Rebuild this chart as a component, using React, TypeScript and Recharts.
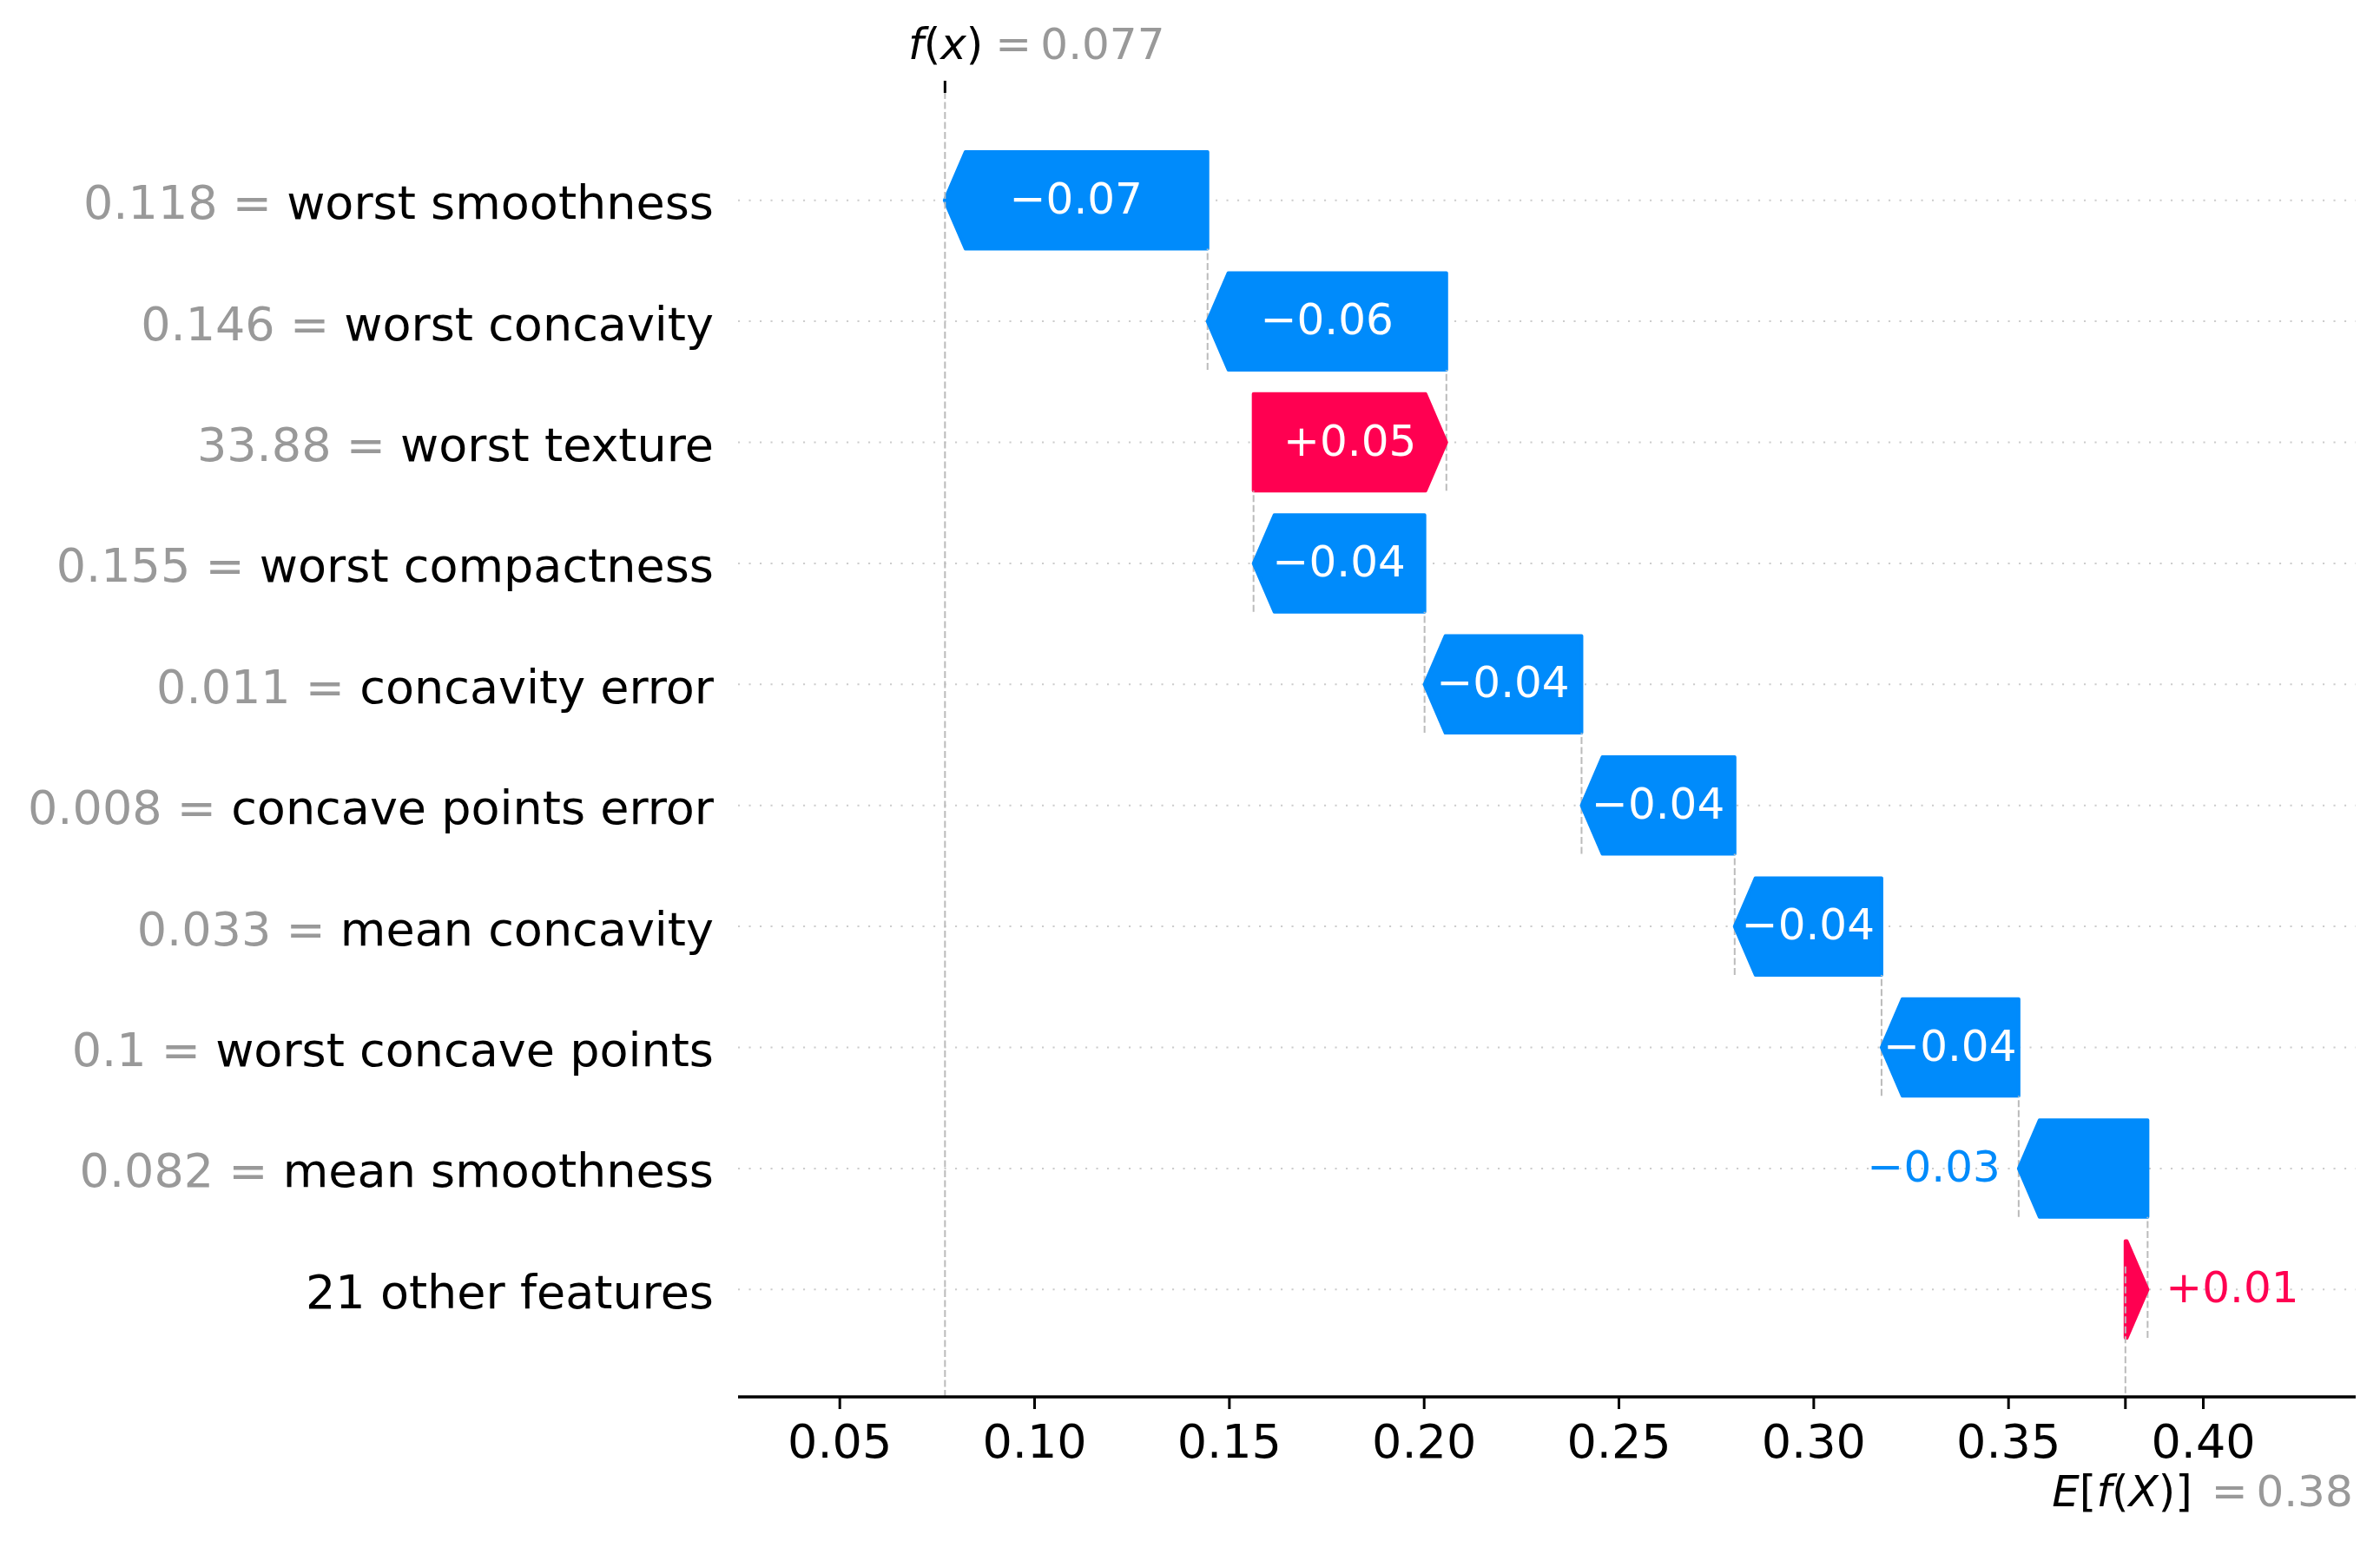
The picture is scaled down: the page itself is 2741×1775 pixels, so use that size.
import React from "react";
import { ComposedChart, Bar, XAxis, YAxis, CartesianGrid, ReferenceLine } from "recharts";

// ---------------- data ----------------
const featureNames = [
  "worst smoothness",
  "worst concavity",
  "worst texture",
  "worst compactness",
  "concavity error",
  "concave points error",
  "mean concavity",
  "worst concave points",
  "mean smoothness",
  "21 other features",
];
const featureValues = ["0.118", "0.146", "33.88", "0.155", "0.011", "0.008", "0.033", "0.1", "0.082", ""];
const shapValues = [-0.0675, -0.0613, 0.0495, -0.0439, -0.0403, -0.0393, -0.0377, -0.0352, -0.0331, 0.0057];
const baseValue = 0.38;
const fxValue = 0.077;
const xTicks = [0.05, 0.1, 0.15, 0.2, 0.25, 0.3, 0.35, 0.4];
const xDomain = [0.02388, 0.43911];

// ---------------- layout / style ----------------
const W = 2741;
const H = 1775;
const PLOT_LEFT = 850;
const PLOT_RIGHT = 2713;
const PLOT_TOP = 107;
const PLOT_BOTTOM = 1609;
const ROW_PAD = 54;
const N = featureNames.length;
const BAND = (PLOT_BOTTOM - PLOT_TOP - 2 * ROW_PAD) / N;
const BAR_SIZE = 0.8 * BAND;
const HEAD = 24;
const FONT = "DejaVu Sans";
const BLUE = "#008bfb";
const RED = "#ff0051";
const GRAY = "#999999";

const fmtSigned = (v: number) => (v < 0 ? "\u2212" : "+") + Math.abs(v).toFixed(2);
const fmtPlain = (v: number) => String(parseFloat(v.toFixed(3)));

// cumulative positions, bottom-up from the base value
const rows = (() => {
  const out: any[] = new Array(N);
  let cum = baseValue;
  for (let i = N - 1; i >= 0; i--) {
    const start = cum;
    const end = cum + shapValues[i];
    cum = end;
    out[i] = {
      name: featureNames[i],
      shap: shapValues[i],
      start,
      end,
      range: [Math.min(start, end), Math.max(start, end)],
      label: fmtSigned(shapValues[i]),
    };
  }
  return out;
})();

const CHAR_W: Record<string, number> = {
  "0": 0.636, "1": 0.636, "2": 0.636, "3": 0.636, "4": 0.636, "5": 0.636,
  "6": 0.636, "7": 0.636, "8": 0.636, "9": 0.636, ".": 0.318, "\u2212": 0.838, "+": 0.838,
};
const textWidth = (s: string, size: number) =>
  s.split("").reduce((a, c) => a + (CHAR_W[c] ?? 0.6), 0) * size;

const ArrowBar = (props: any) => {
  const { x, y, width, height, payload, index } = props;
  const neg = payload.shap < 0;
  const color = neg ? BLUE : RED;
  const len = Math.abs(width);
  const left = Math.min(x, x + width);
  const right = Math.max(x, x + width);
  const sx = neg ? right : left;
  const ex = neg ? left : right;
  const d = neg ? -1 : 1;
  const hl = Math.min(HEAD, len);
  const top = y;
  const bot = y + height;
  const cy = y + height / 2;
  const sh = ex - d * hl;
  const pts = `${sx},${top} ${sh},${top} ${ex},${cy} ${sh},${bot} ${sx},${bot}`;
  const tw = textWidth(payload.label, 50);
  const inside = tw < len + 4;
  return (
    <g>
      {index > 0 && (
        <line x1={ex} x2={ex} y1={bot} y2={bot - BAND} stroke="#bbbbbb" strokeWidth={2} strokeDasharray="8 3.5" />
      )}
      <polygon points={pts} fill={color} stroke={color} strokeWidth={4} strokeLinejoin="round" />
      {inside ? (
        <text x={(left + right) / 2} y={cy + 15} textAnchor="middle" fontSize={50} fontFamily={FONT} fill="#ffffff">
          {payload.label}
        </text>
      ) : (
        <text
          x={neg ? ex - 21 : ex + 21}
          y={cy + 15}
          textAnchor={neg ? "end" : "start"}
          fontSize={50}
          fontFamily={FONT}
          fill={color}
        >
          {payload.label}
        </text>
      )}
    </g>
  );
};

const YTick = (props: any) => {
  const { x, y, payload } = props;
  const i = featureNames.indexOf(payload.value);
  const val = featureValues[i];
  return (
    <text x={x} y={y + 21.5} textAnchor="end" fontSize={54} fontFamily={FONT}>
      {val ? <tspan fill={GRAY}>{`${val} = `}</tspan> : null}
      <tspan fill="#000000">{payload.value}</tspan>
    </text>
  );
};

const XTick = (props: any) => {
  const { x, y, payload } = props;
  const v = payload.value;
  if (Math.abs(v - baseValue) < 1e-9) {
    const by = y + 95;
    return (
      <g fontFamily={FONT} fontSize={50}>
        <text x={x + 77} y={by} textAnchor="end" fill="#000000">
          <tspan fontStyle="italic">E</tspan>[<tspan fontStyle="italic">f</tspan>(<tspan fontStyle="italic">X</tspan>)]
        </text>
        <text x={x + 99} y={by} fill={GRAY}>=</text>
        <text x={x + 150.6} y={by} fill={GRAY}>{fmtPlain(baseValue)}</text>
      </g>
    );
  }
  return (
    <text x={x} y={y + 39.4} textAnchor="middle" fontSize={54} fontFamily={FONT} fill="#000000">
      {v.toFixed(2)}
    </text>
  );
};

const TopTick = (props: any) => {
  const { x } = props;
  const by = 68;
  return (
    <g fontFamily={FONT} fontSize={50}>
      <text x={x + 44} y={by} textAnchor="end" fill="#000000">
        <tspan fontStyle="italic">f</tspan>(<tspan fontStyle="italic">x</tspan>)
      </text>
      <text x={x + 58} y={by} fill={GRAY}>=</text>
      <text x={x + 110} y={by} fill={GRAY}>{fmtPlain(fxValue)}</text>
    </g>
  );
};

const BaseLineShape = (p: any) => {
  const yTop = Math.min(p.y1, p.y2);
  const yBot = Math.max(p.y1, p.y2);
  return (
    <line
      x1={p.x1}
      x2={p.x2}
      y1={yBot - (yBot - yTop) / N}
      y2={yBot}
      stroke="#bbbbbb"
      strokeWidth={2}
      strokeDasharray="8 3.5"
    />
  );
};

export default function App() {
  return (
    <div style={{ position: "absolute", left: 0, top: 0, width: W, height: H, background: "#ffffff" }}>
      <ComposedChart
        layout="vertical"
        width={W}
        height={H}
        data={rows}
        margin={{ top: 0, right: W - PLOT_RIGHT, bottom: 0, left: 0 }}
      >
        <CartesianGrid
          horizontal
          vertical={false}
          syncWithTicks
          stroke="#cccccc"
          strokeWidth={2}
          strokeDasharray="2.1 10.4"
        />
        <ReferenceLine x={fxValue} stroke="#bbbbbb" strokeWidth={2} strokeDasharray="8 3.5" />
        <ReferenceLine x={baseValue} shape={BaseLineShape} />
        <XAxis
          type="number"
          domain={xDomain}
          allowDataOverflow
          ticks={[...xTicks, baseValue]}
          interval={0}
          height={H - PLOT_BOTTOM}
          axisLine={{ stroke: "#000000", strokeWidth: 3.5 }}
          tickLine={{ stroke: "#000000", strokeWidth: 3 }}
          tickSize={14}
          tickMargin={17}
          tick={XTick}
        />
        <XAxis
          xAxisId="top"
          orientation="top"
          type="number"
          domain={xDomain}
          allowDataOverflow
          ticks={[fxValue]}
          interval={0}
          height={PLOT_TOP}
          axisLine={false}
          tickLine={{ stroke: "#000000", strokeWidth: 3 }}
          tickSize={14}
          tickMargin={0}
          tick={TopTick}
        />
        <YAxis
          type="category"
          dataKey="name"
          width={PLOT_LEFT}
          interval={0}
          axisLine={false}
          tickLine={false}
          tickSize={0}
          tickMargin={28}
          padding={{ top: ROW_PAD, bottom: ROW_PAD }}
          tick={YTick}
        />
        <Bar dataKey="range" barSize={BAR_SIZE} isAnimationActive={false} shape={ArrowBar} />
      </ComposedChart>
    </div>
  );
}
